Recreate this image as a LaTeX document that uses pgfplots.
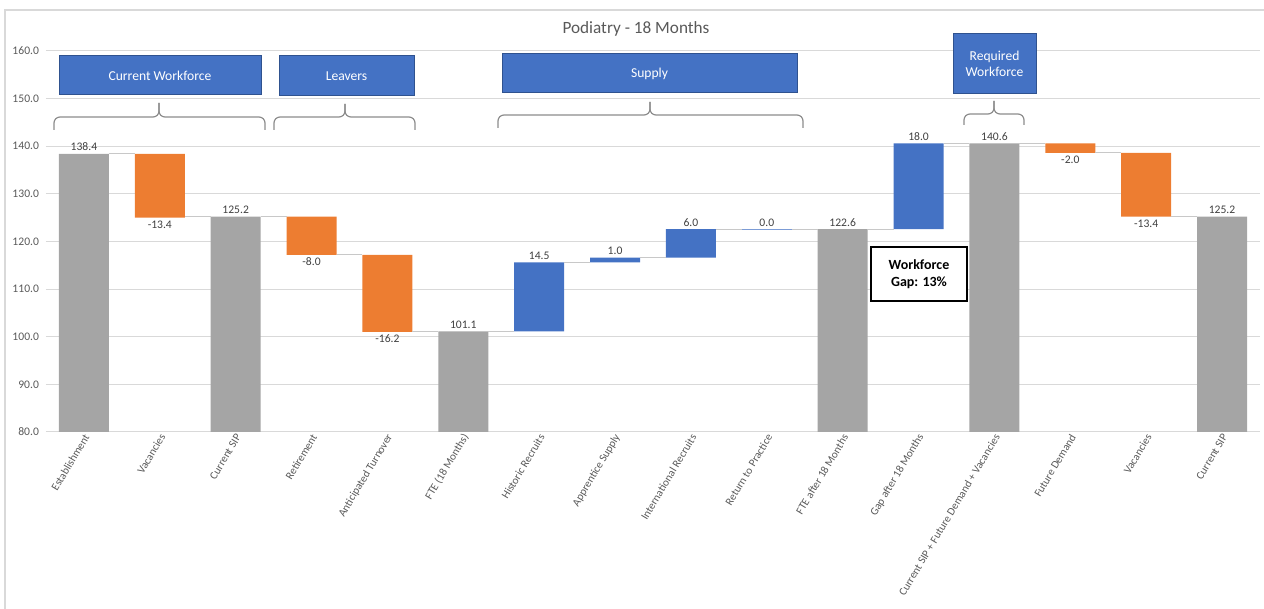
\documentclass[border=0pt]{standalone}
\usepackage{fontspec}
\setmainfont{Carlito}
\usepackage{pgfplots}
\pgfplotsset{compat=1.18}
\definecolor{barGrey}{HTML}{A5A5A5}
\definecolor{barOrange}{HTML}{ED7D31}
\definecolor{barBlue}{HTML}{4472C4}
\definecolor{boxBorder}{HTML}{2F528F}
\definecolor{textGrey}{HTML}{595959}
\definecolor{labGrey}{HTML}{404040}
\definecolor{gridGrey}{HTML}{D9D9D9}
\definecolor{braceGrey}{HTML}{8C8C8C}
\definecolor{connGrey}{HTML}{C8C8C8}
% brace: x1, xm, x2, yline, yend, ytip (pt, y measured downward)
\newcommand{\xbrace}[6]{%
  \draw[braceGrey, line width=0.6pt, rounded corners=3pt] (#1pt,-#5pt) -- (#1pt,-#4pt) -- (#2pt,-#4pt) -- (#2pt,-#6pt);
  \draw[braceGrey, line width=0.6pt, rounded corners=3pt] (#3pt,-#5pt) -- (#3pt,-#4pt) -- (#2pt,-#4pt) -- (#2pt,-#6pt);}
\begin{document}
\begin{tikzpicture}
\useasboundingbox (0,0) rectangle (632pt,-304.5pt);
% outer frame
\draw[gridGrey, line width=0.6pt] (2.5pt,-310pt) -- (2.5pt,-5pt) -- (640pt,-5pt);
% bars
\begin{axis}[
  at={(23pt,-25.5pt)}, anchor=north west,
  scale only axis, width=607pt, height=190.5pt,
  xmin=-0.5, xmax=15.5, ymin=80, ymax=160,
  ybar stacked, bar width=0.66,
  axis line style={draw=none},
  major tick length=0pt,
  ytick={80,90,...,160},
  ymajorgrids, grid style={gridGrey, line width=0.5pt},
  xtick={0,...,15},
  xticklabels={{Establishment},{Vacancies},{Current SIP},{Retirement},{Anticipated Turnover},{FTE (18 Months)},{Historic Recruits},{Apprentice Supply},{International Recruits},{Return to Practice},{FTE after 18 Months},{Gap after 18 Months},{Current SIP + Future Demand + Vacancies},{Future Demand},{Vacancies},{Current SIP}},
  xticklabel style={font=\fontsize{5.55}{6.5}\selectfont, text=textGrey, rotate=59, anchor=east, inner sep=1pt, yshift=-2pt, xshift=0.5pt},
  yticklabel style={font=\fontsize{5.8}{7}\selectfont, text=textGrey,
    /pgf/number format/fixed, /pgf/number format/fixed zerofill, /pgf/number format/precision=1},
  /pgf/number format/assume math mode=true,
]
\addplot[fill=none, draw=none] coordinates {(0,0) (1,125.0) (2,0) (3,117.2) (4,101.0) (5,0) (6,101.1) (7,115.6) (8,116.6) (9,122.6) (10,0) (11,122.6) (12,0) (13,138.6) (14,125.2) (15,0)};
\addplot[fill=barGrey, draw=none] coordinates {(0,138.4) (1,0) (2,125.2) (3,0) (4,0) (5,101.1) (6,0) (7,0) (8,0) (9,0) (10,122.6) (11,0) (12,140.6) (13,0) (14,0) (15,125.2)};
\addplot[fill=barOrange, draw=none] coordinates {(0,0) (1,13.4) (2,0) (3,8.0) (4,16.2) (5,0) (6,0) (7,0) (8,0) (9,0) (10,0) (11,0) (12,0) (13,2.0) (14,13.4) (15,0)};
\addplot[fill=barBlue, draw=none] coordinates {(0,0) (1,0) (2,0) (3,0) (4,0) (5,0) (6,14.5) (7,1.0) (8,6.0) (9,0) (10,0) (11,18.0) (12,0) (13,0) (14,0) (15,0)};
\end{axis}
% connectors and labels
\begin{axis}[
  at={(23pt,-25.5pt)}, anchor=north west,
  scale only axis, width=607pt, height=190.5pt,
  xmin=-0.5, xmax=15.5, ymin=80, ymax=160,
  hide axis, clip=false,
]
\addplot[connGrey, line width=0.5pt, unbounded coords=jump, mark=none] coordinates {
(0.33,138.4) (0.67,138.4) (nan,nan)
(1.33,125.2) (1.67,125.2) (nan,nan)
(2.33,125.2) (2.67,125.2) (nan,nan)
(3.33,117.2) (3.67,117.2) (nan,nan)
(4.33,101.1) (4.67,101.1) (nan,nan)
(5.33,101.1) (5.67,101.1) (nan,nan)
(6.33,115.6) (6.67,115.6) (nan,nan)
(7.33,116.6) (7.67,116.6) (nan,nan)
(8.33,122.6) (8.67,122.6) (nan,nan)
(9.33,122.6) (9.67,122.6) (nan,nan)
(10.33,122.6) (10.67,122.6) (nan,nan)
(11.33,140.6) (11.67,140.6) (nan,nan)
(12.33,140.6) (12.67,140.6) (nan,nan)
(13.33,138.6) (13.67,138.6) (nan,nan)
(14.33,125.2) (14.67,125.2)};
% zero-height bar (Return to Practice)
\addplot[barBlue!70, line width=0.6pt, mark=none] coordinates {(8.67,122.6) (9.33,122.6)};
% labels above
\addplot[only marks, mark=none, nodes near coords, point meta=explicit symbolic,
  nodes near coords style={font=\fontsize{5.8}{7}\selectfont, text=labGrey, anchor=south, inner sep=1.2pt}]
  table[meta=lab] {
x y lab
0 138.4 138.4
2 125.2 125.2
5 101.1 101.1
6 115.6 14.5
7 116.6 1.0
8 122.6 6.0
9 122.6 0.0
10 122.6 122.6
11 140.6 18.0
12 140.6 140.6
15 125.2 125.2
};
% labels below
\addplot[only marks, mark=none, nodes near coords, point meta=explicit symbolic,
  nodes near coords style={font=\fontsize{5.8}{7}\selectfont, text=labGrey, anchor=north, inner sep=1.2pt}]
  table[meta=lab] {
x y lab
1 125.0 -13.4
3 117.2 -8.0
4 101.0 -16.2
13 138.6 -2.0
14 125.2 -13.4
};
\end{axis}
% title
\node[font=\fontsize{8.6}{10}\selectfont, text=textGrey] at (318pt,-14.5pt) {Podiatry - 18 Months};
% group boxes
\tikzset{grpbox/.style={fill=barBlue, draw=boxBorder, line width=0.5pt},
         grptxt/.style={font=\fontsize{6.8}{8}\selectfont, text=white, align=center}}
\draw[grpbox] (29.5pt,-28pt) rectangle (130.5pt,-47.5pt);
\node[grptxt] at (80pt,-37.75pt) {Current Workforce};
\draw[grpbox] (139.5pt,-28pt) rectangle (207pt,-48pt);
\node[grptxt] at (173.25pt,-38pt) {Leavers};
\draw[grpbox] (251pt,-27pt) rectangle (398.5pt,-46.5pt);
\node[grptxt] at (324.75pt,-36.75pt) {Supply};
\draw[grpbox] (476.5pt,-17pt) rectangle (518pt,-47pt);
\node[grptxt] at (497.25pt,-32pt) {Required\\Workforce};
% braces
\xbrace{27}{79.5}{132.5}{58.5}{65}{51.5}
\xbrace{137}{172.5}{207.5}{58.5}{65}{52}
\xbrace{249}{325}{401.5}{57.5}{64}{51}
\xbrace{482}{497}{512}{57}{62.5}{50.5}
% workforce gap box
\draw[black, line width=0.6pt, fill=white] (435.5pt,-123.5pt) rectangle (483.5pt,-150.5pt);
\node[font=\fontsize{7}{8.5}\selectfont\bfseries, align=center] at (459.5pt,-137pt) {Workforce\\Gap: 13\%};
\end{tikzpicture}
\end{document}
